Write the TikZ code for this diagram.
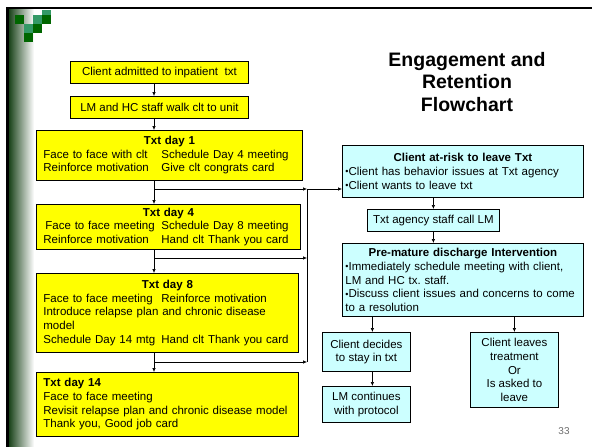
\documentclass[tikz,border=0pt]{standalone}
\usepackage{fontspec}
\setmainfont{Liberation Sans}
\usetikzlibrary{arrows.meta}
\definecolor{boxyellow}{RGB}{255,255,0}
\definecolor{boxcyan}{RGB}{204,255,255}
\definecolor{logodark}{RGB}{0,102,0}
\definecolor{logomid}{RGB}{51,153,102}
\definecolor{barshade}{RGB}{18,60,18}
\definecolor{pagegray}{RGB}{110,110,110}
\frenchspacing
\newcommand{\colA}[1]{\makebox[118pt][l]{#1}}
\newcommand{\bul}{\raisebox{0.6pt}{\fontsize{9}{9}\selectfont\textbullet}}
\begin{document}
\begin{tikzpicture}[x=1pt,y=-1pt,
  every node/.style={font=\fontsize{11.5}{13.6}\selectfont, inner sep=0pt},
  ybox/.style={draw=black, line width=0.8pt, fill=boxyellow, anchor=north west},
  cbox/.style={draw=black, line width=0.8pt, fill=boxcyan, anchor=north west},
  arr/.style={-{Latex[length=4pt,width=3.5pt]}, line width=0.6pt},
  link/.style={line width=0.6pt}]
\useasboundingbox (0,0) rectangle (592,447);
\fill[white] (0,0) rectangle (592,447);

% slide frame: shaded left bar and black rules
\shade[left color=barshade, right color=white, draw=none] (8,8) rectangle (34,447);
\fill[black] (7,7) rectangle (592,9);
\fill[black] (6,7) rectangle (8.5,447);

% pixel logo
\fill[logomid]  (42,10) rectangle (51,15);
\fill[logodark] (15,15) rectangle (24,24);
\fill[logomid]  (33,15) rectangle (42,24);
\fill[logodark] (42,15) rectangle (51,24);
\fill[logomid]  (24,24) rectangle (33,33);
\fill[logodark] (33,24) rectangle (42,33);
\fill[logodark] (24,33) rectangle (33,42);

% title
\node[font=\bfseries\fontsize{19.5}{22.5}\selectfont, align=center] (title) at (467,82)
  {Engagement and\\Retention\\Flowchart};

% left column: treatment days
\node[ybox, minimum width=178, minimum height=22, align=center] (adm) at (70,61)
  {Client admitted to inpatient\ \ txt};
\node[ybox, minimum width=178, minimum height=22, align=center] (walk) at (70,96)
  {LM and HC staff walk clt to unit};
\node[ybox, minimum width=266, minimum height=50, inner xsep=7pt, text width=252, align=left] (day1) at (36,130)
  {\makebox[\linewidth]{\bfseries Txt day 1}\\
   \colA{Face to face with clt}Schedule Day 4 meeting\\
   \colA{Reinforce motivation}Give clt congrats card};
\node[ybox, minimum width=264, minimum height=45, inner xsep=7pt, text width=250, align=left] (day4) at (36,204)
  {\makebox[\linewidth]{\bfseries Txt day 4}\\
   \colA{\hspace{2pt}Face to face meeting}Schedule Day 8 meeting\\
   \colA{Reinforce motivation}Hand clt Thank you card};
\node[ybox, minimum width=262, minimum height=79, inner xsep=7pt, text width=248, align=left] (day8) at (36,273)
  {\makebox[\linewidth]{\bfseries Txt day 8}\\
   \colA{Face to face meeting}Reinforce motivation\\
   Introduce relapse plan and chronic disease\\
   model\\
   \colA{Schedule Day 14 mtg}Hand clt Thank you card};
\node[ybox, minimum width=262, minimum height=64, inner xsep=7pt, text width=248, align=left] (day14) at (36,372)
  {\textbf{Txt day 14}\\
   Face to face meeting\\
   Revisit relapse plan and chronic disease model\\
   Thank you, Good job card};

% right column: at-risk path
\node[cbox, minimum width=241, minimum height=52, inner xsep=3pt, text width=235, align=left] (risk) at (342,145)
  {\makebox[\linewidth]{\bfseries Client at-risk to leave Txt}\\
   \bul Client has behavior issues at Txt agency\\
   \bul Client wants to leave txt};
\node[cbox, minimum width=132, minimum height=22, align=center] (call) at (367,209)
  {Txt agency staff call LM};
\node[cbox, minimum width=241, minimum height=73, inner xsep=3pt, text width=235, align=left] (prem) at (342,243)
  {\makebox[\linewidth]{\bfseries Pre-mature discharge Intervention}\\
   \bul Immediately schedule meeting with client,\\
   LM and HC tx. staff.\\
   \bul Discuss client issues and concerns to come\\
   to a resolution};
\node[cbox, minimum width=88, minimum height=39, align=center] (stay) at (322,332)
  {Client decides\\to stay in txt};
\node[cbox, minimum width=88, minimum height=36, align=center] (cont) at (322,386)
  {LM continues\\with protocol};
\node[cbox, minimum width=88, minimum height=75, align=center] (leave) at (470,332)
  {Client leaves\\treatment\\Or\\Is asked to\\leave};

% page number
\node[font=\fontsize{10}{12}\selectfont, text=pagegray] (pg) at (564,431) {33};

% spine and collector bus
\coordinate (sp) at (154,0);
\coordinate (j1) at (307,189);
\coordinate (j2) at (307,258);
\coordinate (j3) at (307,362);

\draw[arr] (adm.south -| sp) -- (walk.north -| sp);
\draw[arr] (walk.south -| sp) -- (day1.north -| sp);
\draw[arr] (day1.south -| sp) -- (day4.north -| sp);
\draw[arr] (day4.south -| sp) -- (day8.north -| sp);
\draw[arr] (day8.south -| sp) -- (day14.north -| sp);

\draw[arr] (sp |- j1) -- (j1);
\draw[arr] (sp |- j2) -- (j2);
\draw[arr] (sp |- j3) -- (j3);
\draw[link] (j1) -- (j3);
\draw[arr] (j1) -- (risk.west |- j1);

\draw[arr] (risk.south -| call) -- (call.north);
\draw[arr] (call.south) -- (prem.north -| call);
\draw[arr] ([xshift=6pt]stay.north |- prem.south) -- ([xshift=6pt]stay.north);
\draw[arr] (prem.south -| leave) -- (leave.north);
\draw[arr] ([xshift=6pt]stay.south) -- ([xshift=6pt]cont.north);
\end{tikzpicture}
\end{document}
